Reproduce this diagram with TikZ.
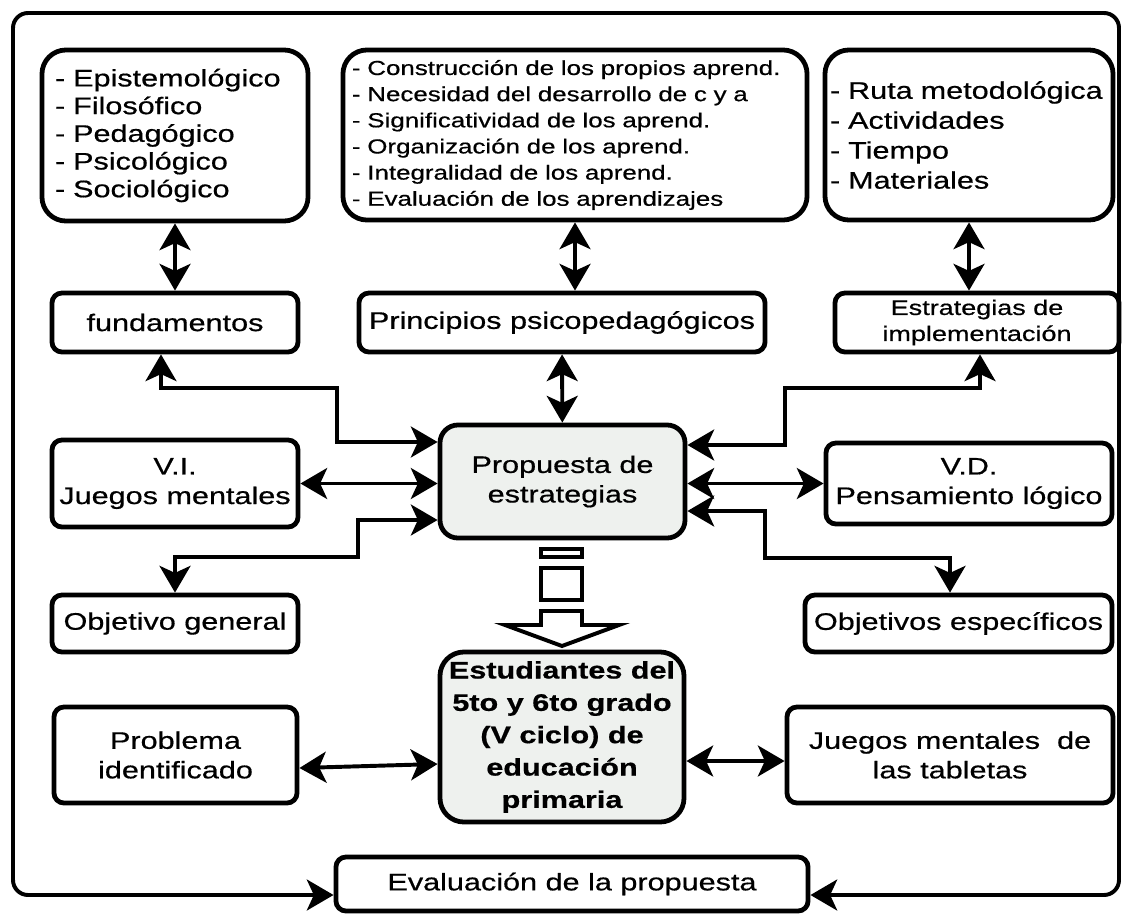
\documentclass[tikz,border=0pt]{standalone}
\usepackage{fontspec}
\setmainfont[FakeStretch=1.28,FakeBold=0.6]{Liberation Sans}
\usetikzlibrary{arrows.meta}
\definecolor{propgray}{RGB}{238,241,238}

\begin{document}
\begin{tikzpicture}[x=0.025cm,y=-0.025cm,
  >={Stealth[length=19pt,width=22pt,inset=5pt]},
  plainbox/.style={draw,line width=3.4pt,rounded corners=0.25cm,align=center,inner sep=0pt,
    font=\fontsize{17pt}{21pt}\selectfont},
  listbox/.style={plainbox,rounded corners=0.6cm,align=left},
  corebox/.style={plainbox,fill=propgray,rounded corners=0.45cm},
  twoway/.style={<->,line width=2.8pt}]
  \useasboundingbox (0,0) rectangle (1122,913);

  % top row: lists
  \node[listbox,minimum width=6.65cm,minimum height=4.275cm,text width=6cm,
    font=\fontsize{17pt}{19.7pt}\selectfont] (fundlist) at (175,135.5)
    {- Epistemológico\\- Filosófico\\- Pedagógico\\- Psicológico\\- Sociológico};
  \node[listbox,minimum width=11.6cm,minimum height=4.25cm,text width=11.15cm,
    font=\fontsize{14.4pt}{18.6pt}\selectfont] (princlist) at (575,135)
    {- Construcción de los propios aprend.\\- Necesidad del desarrollo de c y a\\- Significatividad de los aprend.\\- Organización de los aprend.\\- Integralidad de los aprend.\\- Evaluación de los aprendizajes};
  \node[listbox,minimum width=7.2cm,minimum height=4.25cm,text width=6.95cm,
    font=\fontsize{17pt}{21.3pt}\selectfont] (estrlist) at (969,135)
    {- Ruta metodológica\\- Actividades\\- Tiempo\\- Materiales};

  % second row
  \node[plainbox,minimum width=6.15cm,minimum height=1.475cm] (fund) at (175,322.5) {fundamentos};
  \node[plainbox,minimum width=10.15cm,minimum height=1.475cm] (princ) at (562,322.5) {Principios psicopedagógicos};
  \node[plainbox,minimum width=7.1cm,minimum height=1.475cm,
    font=\fontsize{15pt}{18.5pt}\selectfont] (estr) at (977,322.5) {Estrategias de\\implementación};

  % middle
  \node[corebox,minimum width=6.125cm,minimum height=2.825cm] (prop) at (562.5,481.5) {Propuesta de\\estrategias};
  \node[plainbox,minimum width=6.15cm,minimum height=2.175cm] (vi) at (175,483.5) {V.I.\\Juegos mentales};
  \node[plainbox,minimum width=7.15cm,minimum height=2.025cm] (vd) at (969,483.5) {V.D.\\Pensamiento lógico};
  \node[plainbox,minimum width=6.15cm,minimum height=1.425cm] (objg) at (175,623.5) {Objetivo general};
  \node[plainbox,minimum width=7.675cm,minimum height=1.425cm] (obje) at (958.5,623.5) {Objetivos específicos};

  % bottom
  \node[corebox,minimum width=6.1cm,minimum height=4.25cm,rounded corners=0.6cm,
    font=\bfseries\fontsize{17pt}{23pt}\selectfont] (estud) at (562,737)
    {Estudiantes del\\5to y 6to grado\\(V ciclo) de\\educación\\primaria};
  \node[plainbox,minimum width=6.075cm,minimum height=2.4cm] (prob) at (175.5,755) {Problema\\identificado};
  \node[plainbox,minimum width=8.15cm,minimum height=2.4cm] (tabl) at (950,755) {Juegos mentales\ \ de\\las tabletas};
  \node[plainbox,minimum width=11.8cm,minimum height=1.35cm] (eval) at (572,884) {Evaluación de la propuesta};

  % links
  \draw[twoway] (fundlist) -- (fund);
  \draw[twoway] (princlist.south) -- (princlist.south |- princ.north);
  \draw[twoway] (estrlist.south) -- (estrlist.south |- estr.north);
  \draw[twoway] (princ) -- (prop);
  \draw[twoway] (fund.south -| 161,0) |- (337,388) |- (prop.west |- 0,442);
  \draw[twoway] (vi.east) -- (vi.east -| prop.west);
  \draw[twoway] (prop.west |- 0,520) -| (358,557) -| (objg.north);
  \draw[twoway] (prop.east |- 0,445) -| (785,388) -| (estr.south -| 980,0);
  \draw[twoway] (vd.west -| prop.east) -- (vd.west);
  \draw[twoway] (prop.east |- 0,511) -| (765,558) -| (obje.north -| 950,0);
  \draw[twoway] (prob.east |- 0,768) -- (estud.west |- 0,764);
  \draw[twoway] (estud.east |- 0,761) -- (tabl.west |- 0,761);

  % frame
  \draw[twoway,rounded corners=0.375cm] (eval.west |- 0,895) -| (13,13) -| (1119,895) -- (eval.east |- 0,895);

  % hollow arrow
  \begin{scope}[line width=2.8pt]
    \draw (541,549) rectangle (582,557);
    \draw (541,568) rectangle (582,600);
    \draw (541,611) -- (582,611) -- (582,625) -- (619,625) -- (562,646) -- (505,625) -- (541,625) -- cycle;
  \end{scope}
\end{tikzpicture}
\end{document}
